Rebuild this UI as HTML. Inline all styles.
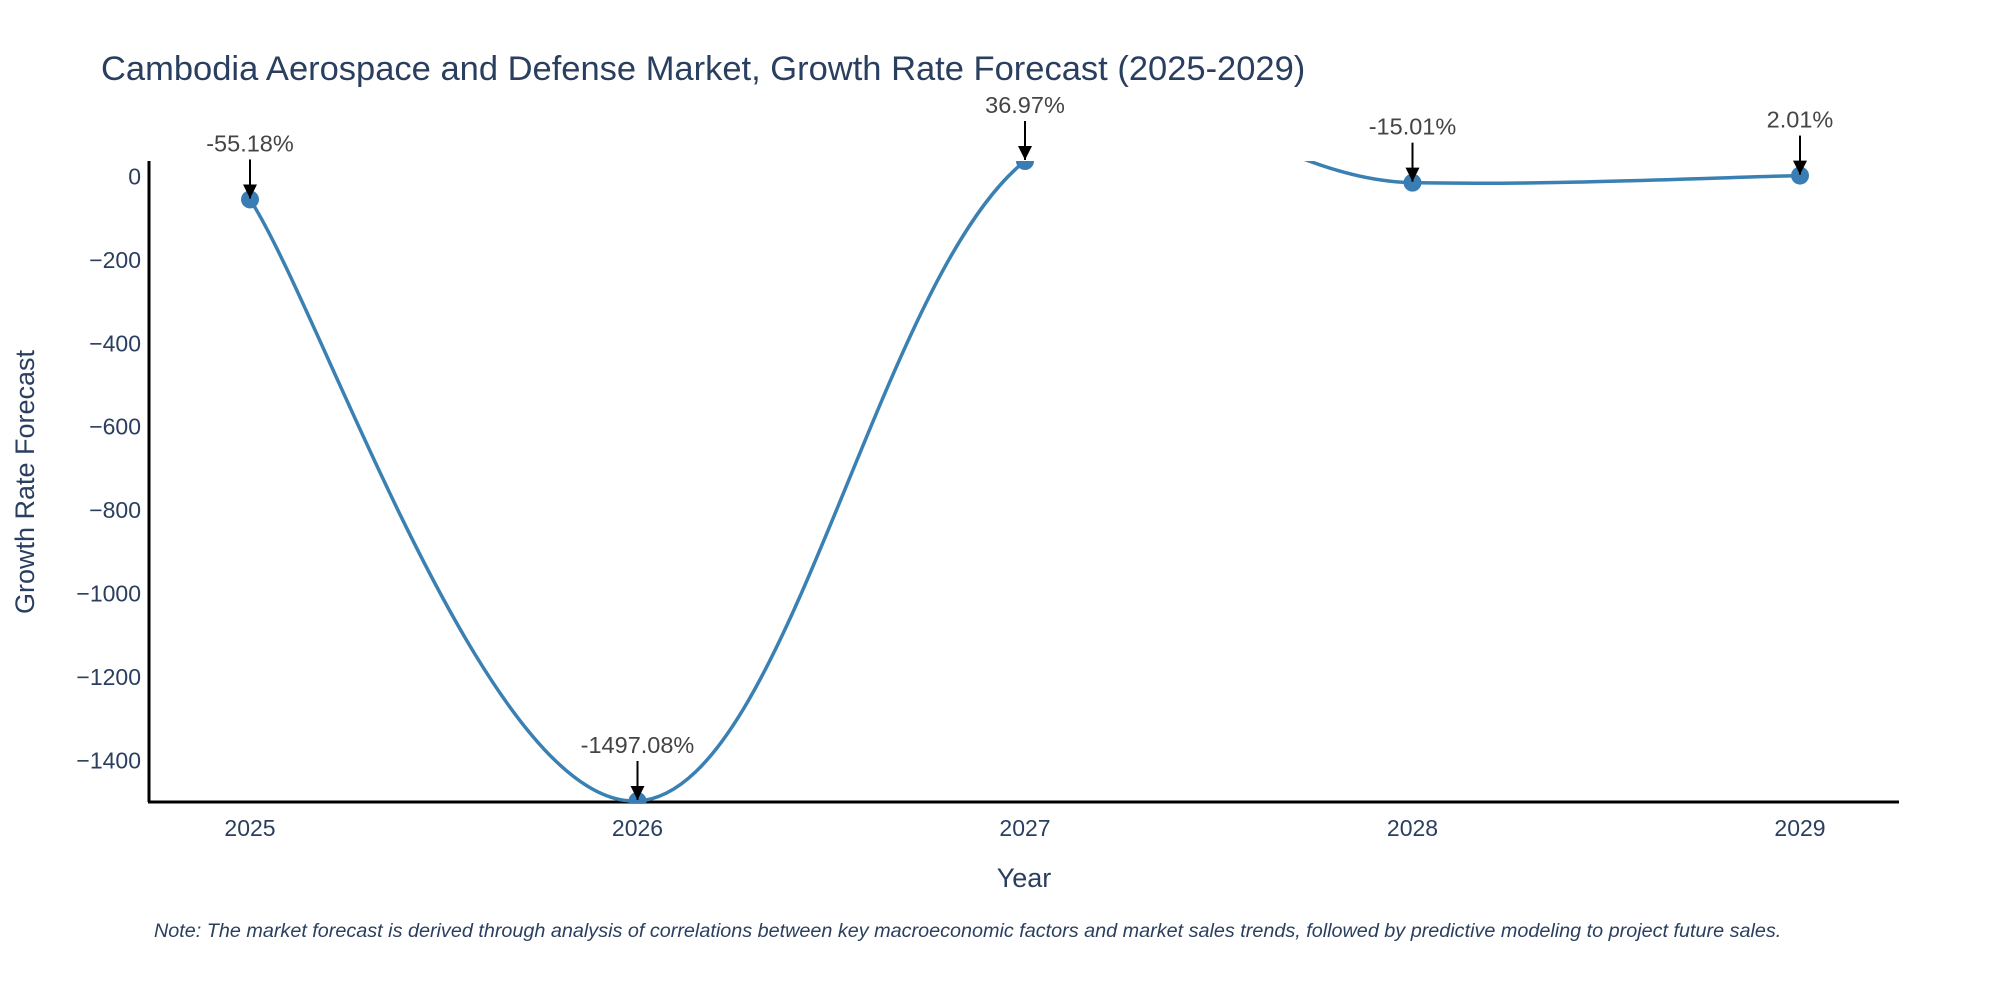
<!DOCTYPE html>
<html><head><meta charset="utf-8"><style>
html,body{margin:0;padding:0;background:#fff;width:2000px;height:1000px;overflow:hidden;font-family:"Liberation Sans",sans-serif}
</style></head><body>
<svg width="2000" height="1000" xmlns="http://www.w3.org/2000/svg" id="chart">
<defs>
<clipPath id="plotclip"><rect x="149" y="161" width="1750" height="642"/></clipPath>
<marker id="ah" viewBox="0 0 10 10" refX="10" refY="5" markerWidth="7" markerHeight="7" markerUnits="strokeWidth" orient="auto"><path d="M0,0L10,5L0,10z" fill="#000"/></marker>
</defs>
<text x="101" y="80" font-size="34.5" fill="#2a3f5f">Cambodia Aerospace and Defense Market, Growth Rate Forecast (2025-2029)</text>
<g id="yticks"></g><g id="xticks"></g>
<line x1="149" y1="161" x2="149" y2="802" stroke="#000" stroke-width="3"/>
<line x1="148" y1="802" x2="1899" y2="802" stroke="#000" stroke-width="3"/>
<g clip-path="url(#plotclip)" id="series"></g>
<g id="annots"></g>
<text x="1024" y="887" font-size="27" fill="#2a3f5f" text-anchor="middle">Year</text>
<text transform="translate(34,482) rotate(-90)" font-size="27" fill="#2a3f5f" text-anchor="middle">Growth Rate Forecast</text>
<text x="154" y="937" font-size="19.8" font-style="italic" fill="#2a3f5f">Note: The market forecast is derived through analysis of correlations between key macroeconomic factors and market sales trends, followed by predictive modeling to project future sales.</text>
</svg>
<script>
const years = [2025, 2026, 2027, 2028, 2029];
const values = [-55.18, -1497.08, 36.97, -15.01, 2.01];
const labels = ["-55.18%", "-1497.08%", "36.97%", "-15.01%", "2.01%"];
const yTickValues = [0, -200, -400, -600, -800, -1000, -1200, -1400];
const NS = "http://www.w3.org/2000/svg";
const yMin = -1497.08, yMax = 36.97;
function xs(yr){ return 250 + (yr - 2025) * 387.5; }
function ys(v){ return 161 + (yMax - v) / (yMax - yMin) * 640; }
function mk(tag, attrs, parent){ const e=document.createElementNS(NS,tag); for(const k in attrs) e.setAttribute(k,attrs[k]); parent.appendChild(e); return e; }
const yt=document.getElementById('yticks');
yTickValues.forEach(v=>{
  const t=mk('text',{x:141,y:ys(v)+8,'font-size':23,fill:'#2a3f5f','text-anchor':'end'},yt);
  
  
  t.textContent = v<0 ? '\u2212'+Math.abs(v) : String(v);
});
const xt=document.getElementById('xticks');
years.forEach(yr=>{
  const t=mk('text',{x:xs(yr),y:836,'font-size':23,fill:'#2a3f5f','text-anchor':'middle'},xt);
  
  
  t.textContent=String(yr);
});
const pts = years.map((yr,i)=>[xs(yr), ys(values[i])]);
let d = 'M'+pts[0][0]+','+pts[0][1];
const k = 5.2;
for(let i=0;i<pts.length-1;i++){
  const p0=pts[Math.max(0,i-1)], p1=pts[i], p2=pts[i+1], p3=pts[Math.min(pts.length-1,i+2)];
  const c1=[p1[0]+(p2[0]-p0[0])/k, p1[1]+(p2[1]-p0[1])/k];
  const c2=[p2[0]-(p3[0]-p1[0])/k, p2[1]-(p3[1]-p1[1])/k];
  d+=' C'+c1[0]+','+c1[1]+' '+c2[0]+','+c2[1]+' '+p2[0]+','+p2[1];
}
const s=document.getElementById('series');
const line=mk('path',{d:d,fill:'none',stroke:'#3a80b2','stroke-width':3.5},s);


pts.forEach(p=>{
  const c=mk('circle',{cx:p[0],cy:p[1],r:9,fill:'#3a7db5'},s);
  
  
});
const an=document.getElementById('annots');
pts.forEach((p,i)=>{
  const l=mk('line',{x1:p[0],y1:p[1]-40,x2:p[0],y2:p[1]-1,stroke:'#000','stroke-width':2,'marker-end':'url(#ah)'},an);
  
  
  const t=mk('text',{x:p[0],y:p[1]-48,'font-size':23.5,fill:'#444','text-anchor':'middle'},an);
  
  
  t.textContent=labels[i];
});
</script>
</body></html>
